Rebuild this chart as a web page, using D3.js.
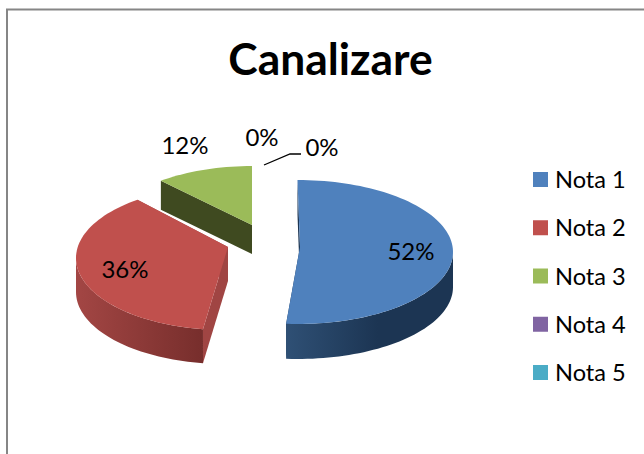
<!DOCTYPE html>
<html><head><meta charset="utf-8">
<script src="https://cdn.jsdelivr.net/npm/d3@7"></script>
<style>html,body{margin:0;padding:0;background:#fff}svg{display:block}text{font-family:Lato,Carlito,sans-serif;fill:#000}</style>
</head><body>
<svg id="c" width="644" height="454"></svg>
<script>
const title = "Canalizare";
const categories = ["Nota 1","Nota 2","Nota 3","Nota 4","Nota 5"];
const values = [52,36,12,0,0];
const labels = ["52%","36%","12%","0%","0%"];
const colors = ["#4f81bd","#c0504d","#9bbb59","#8064a2","#4bacc6"];

// 3D projection layout per slice (not data)
const geo = [
 {ax:300,ay:247,ex:297.5,ey:252,rx:155.5,ry:72,t0:0,t1:-3,d:35,wallA:"#1c3553",wallB:"#2f5075",cut:"#1c3553"},
 {ax:228,ay:247,ex:225,ey:258,rx:149,ry:72,t0:1.3,t1:7.2,d:34,wallA:"#772e2c",wallB:"#a34644",cut:"#a04543"},
 {ax:252,ay:225,ex:252,ey:238,rx:150,ry:72,t0:5.8,t1:0,d:29,wallA:"#3f4a20",wallB:"#3f4a20",cut:"#3f4a20"}
];
const labelPos = [[411,251],[125,269],[185,145],[262,137],[322,147]];

const svg = d3.select("#c");
const rad = Math.PI/180;
svg.append("path").attr("d","M7,454V9.5H644").attr("fill","none").attr("stroke","#868686").attr("stroke-width",2);

svg.append("text").attr("x",330.5).attr("y",75).attr("text-anchor","middle")
  .attr("font-size",44.4).attr("font-weight",700).text(title);

const pie = d3.pie().sort(null).value(d=>d)(values);
const line = d3.line();
const defs = svg.append("defs");

function arcPts(g,a0,a1){
  const n = Math.max(2,Math.ceil((a1-a0)/rad/2));
  return d3.range(n+1).map(i=>{
    const a=a0+(a1-a0)*i/n;
    return [g.ex+g.rx*Math.sin(a), g.ey-g.ry*Math.cos(a)];
  });
}

const order=[2,1,0];
order.forEach(i=>{
  const s=pie[i], g=geo[i];
  if(s.endAngle-s.startAngle<=0) return;
  const a0=s.startAngle+g.t0*rad, a1=s.endAngle+g.t1*rad;
  const top=svg.append("g");
  const arc=arcPts(g,a0,a1);
  const p0=arc[0], p1=arc[arc.length-1];
  // cut faces
  const face=(p)=>top.append("path").attr("d",line([[g.ax,g.ay],p,[p[0],p[1]+g.d],[g.ax,g.ay+g.d]])+"Z").attr("fill",g.cut);
  face(p0); face(p1);
  // outer wall
  const w0=Math.max(a0,90*rad), w1=Math.min(a1,270*rad);
  if(w1>w0){
    const pts=arcPts(g,w0,w1);
    const id="w"+i;
    const xs=d3.extent(pts,d=>d[0]);
    const gr=defs.append("linearGradient").attr("id",id).attr("gradientUnits","userSpaceOnUse")
      .attr("x1",xs[1]).attr("x2",xs[0]).attr("y1",0).attr("y2",0);
    gr.append("stop").attr("offset",i===0?0.45:0).attr("stop-color",g.wallA);
    gr.append("stop").attr("offset",1).attr("stop-color",g.wallB);
    const lower=pts.map(p=>[p[0],p[1]+g.d]).reverse();
    top.append("path").attr("d",line(pts.concat(lower))+"Z").attr("fill",`url(#${id})`);
  }
  // top face
  top.append("path").attr("d",line([[g.ax,g.ay]].concat(arc))+"Z").attr("fill",colors[i]);
});

// leader line for the last 0%
svg.append("path").attr("d",line([[264,165],[290,154],[301,154]])).attr("fill","none").attr("stroke","#000").attr("stroke-width",1.3);

labels.forEach((t,i)=>{
  svg.append("text").attr("x",labelPos[i][0]).attr("y",labelPos[i][1]).attr("dy","0.36em")
    .attr("text-anchor","middle").attr("font-size",24).text(t);
});

const yLeg=d3.scalePoint().domain(categories).range([179.5,372.5]);
categories.forEach((c,i)=>{
  svg.append("rect").attr("x",533).attr("y",yLeg(c)-7.5).attr("width",15).attr("height",15).attr("fill",colors[i]);
  svg.append("text").attr("x",555).attr("y",yLeg(c)+8.5).attr("font-size",23.6).text(c);
});
</script>
</body></html>
